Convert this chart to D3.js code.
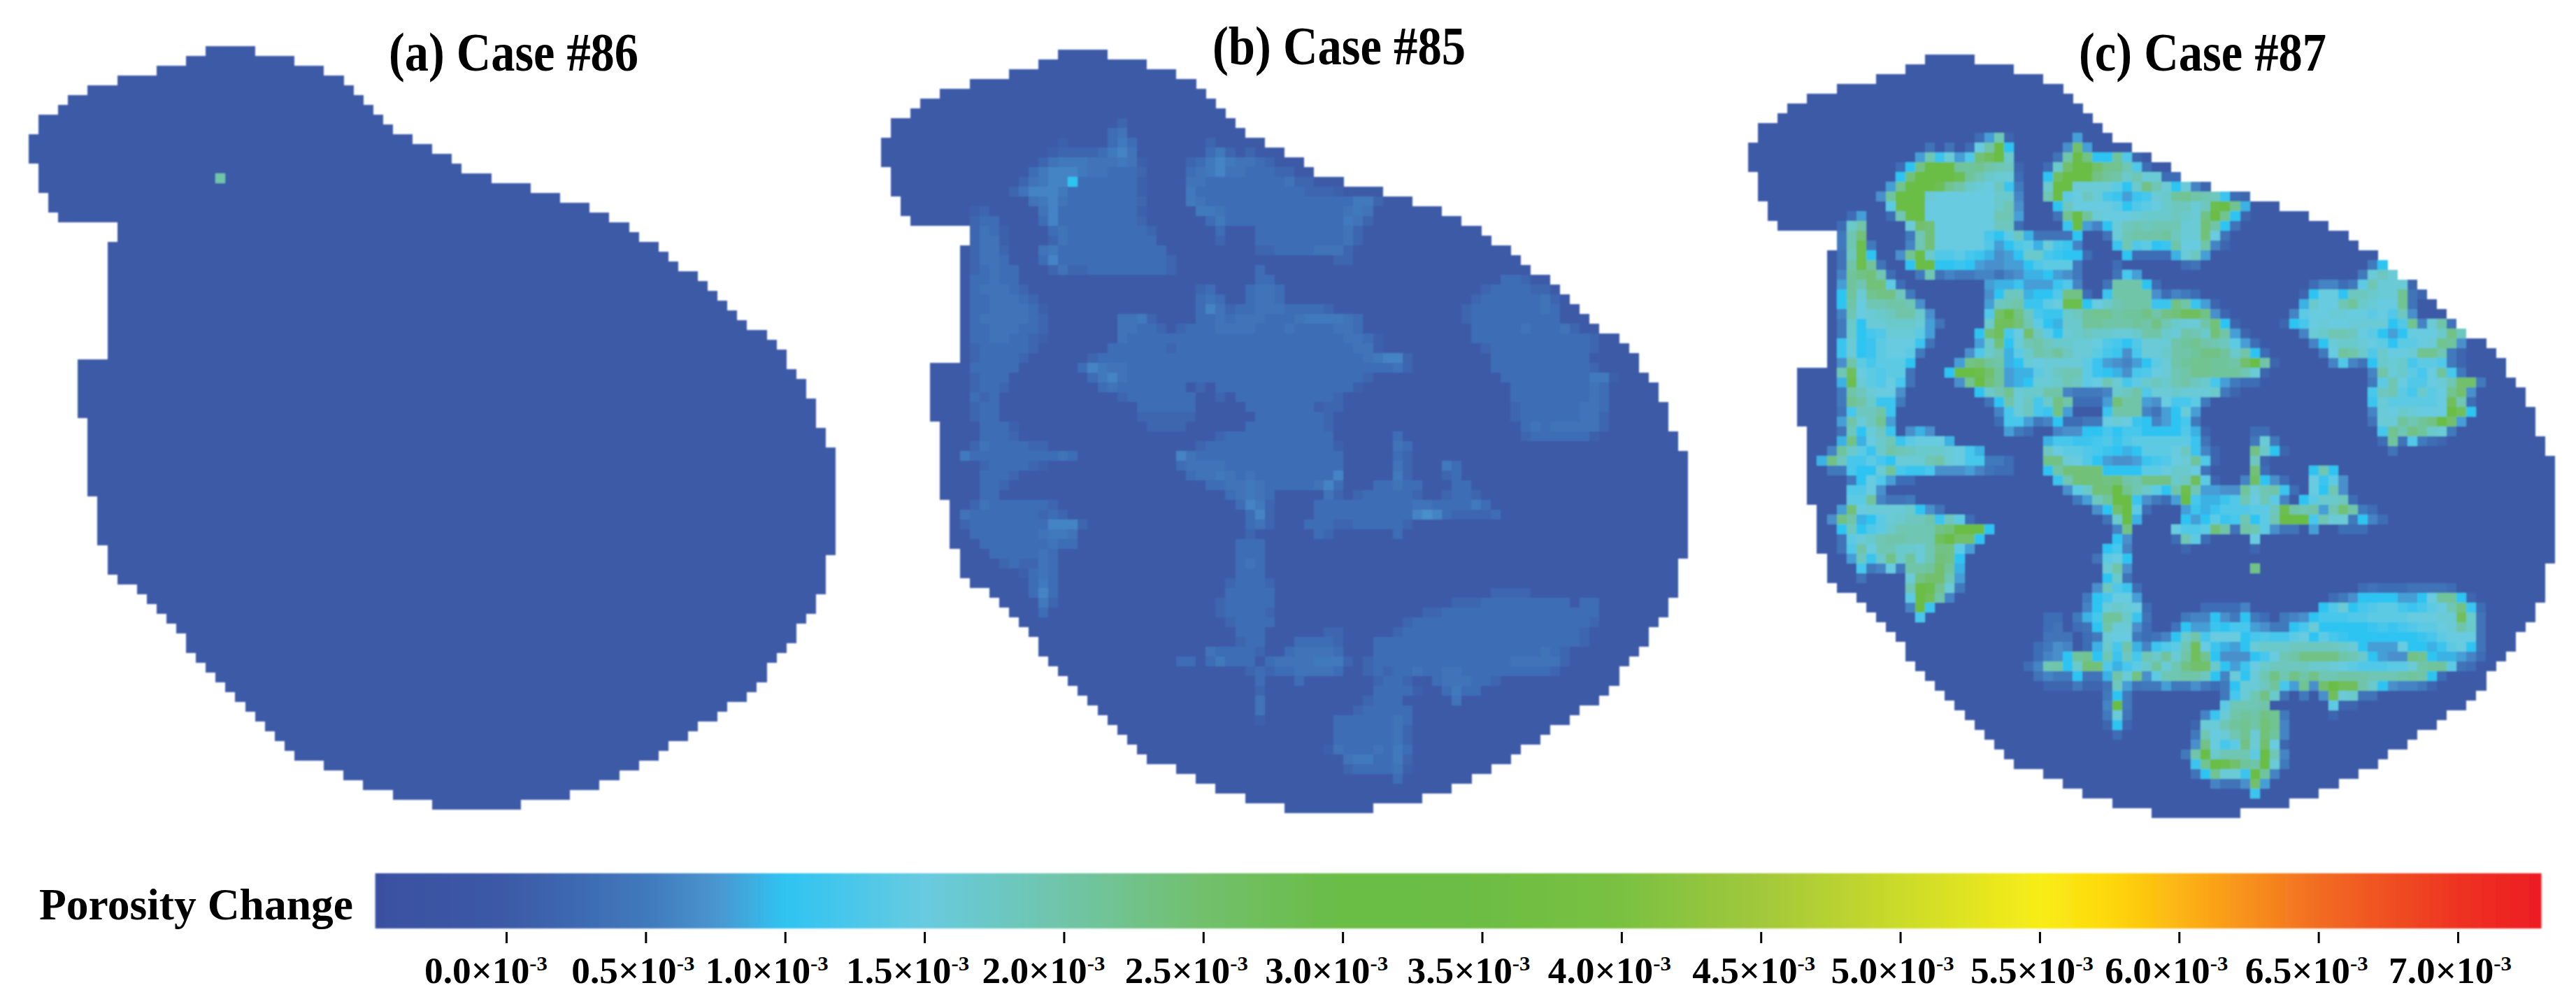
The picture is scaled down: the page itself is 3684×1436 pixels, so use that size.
<!DOCTYPE html>
<html><head><meta charset="utf-8">
<script src="https://cdnjs.cloudflare.com/ajax/libs/d3/7.8.5/d3.min.js"></script>
<style>html,body{margin:0;padding:0;background:#fff}svg{display:block}text{font-family:"Liberation Serif",serif;font-weight:bold;fill:#000}</style>
</head><body><svg id="c" width="3684" height="1436"></svg>
<script>
// ---- data ----
const titles = ["(a) Case #86", "(b) Case #85", "(c) Case #87"];
const colorbarLabel = "Porosity Change";
const tickValues = [0,0.5,1,1.5,2,2.5,3,3.5,4,4.5,5,5.5,6,6.5,7];
const tickText = ["0.0","0.5","1.0","1.5","2.0","2.5","3.0","3.5","4.0","4.5","5.0","5.5","6.0","6.5","7.0"];
const colorStopValues = [-0.47,0,0.5,0.75,1,1.5,2,2.5,3,3.5,4,4.5,5,5.5,5.75,6,6.5,7,7.3];
const colorStopColors = ["#3a50a1","#3c5aa7","#4079bc","#4a95cf","#2fc4f2","#68cbe0","#70c5a8","#72c06c","#6abd45","#6dbd44","#7ac143","#a2c83b","#cbdb2a","#f8ed18","#fed80a","#fdb515","#f26c23","#ee3324","#ed1c24"];
// grid extent of the domain, one [first, last+1] column per row
const maskLeft = [18,16,13,9,6,4,3,1,1,0,0,0,1,1,1,2,2,3,9,9,8,8,8,8,8,8,8,8,8,8,8,8,5,5,5,5,5,5,6,6,6,6,6,6,6,6,7,7,7,7,7,8,8,8,9,11,12,13,14,15,16,16,17,18,19,20,21,22,23,24,25,26,27,30,32,34,37,41];
const maskRight = [23,27,30,32,33,34,35,36,37,39,41,43,44,47,51,54,57,59,61,62,64,65,66,68,69,70,71,72,73,75,76,77,77,78,79,79,80,80,80,81,81,82,82,82,82,82,82,82,82,82,82,82,81,81,81,81,80,80,79,78,78,77,76,75,75,74,73,71,70,68,67,65,64,62,60,58,55,50];
// porosity change, one entry per grid row: "startCol:values", base-36 digit = tenths of 1e-3
const caseA = {13:"19:k"};
const caseB = {7:"24:2",8:"23:34",9:"18:1 23:353 33:2",10:"17:122223564 33:352 37:2",11:"16:24555444541 31:235654432",12:"15:356665443332 31:34564433322",
13:"14:24566a3333331 31:4433333333422",14:"13:24666533333331 31:5333333333332221",15:"15:456433333332 31:54333333333333333552",
16:"9:12 16:46333333331 32:554333333333333454",17:"9:233 16:36333333332 33:35333333333333542",18:"9:2431 17:34333333332 34:3 38:33333333342",
19:"9:2441 17:24333333333 34:2 38:33333333342",20:"9:2442 16:4533333333333 38:2233334442",21:"9:2443 16:36333333333332 46:22",22:"9:23433 17:2422333333332 38:3",
23:"9:33433 38:33 63:332",24:"9:344432 32:23 37:3443 61:2333322",25:"9:3344432 32:343 37:3443 60:233333342",26:"9:33444431 32:3642 36:3344433332 59:2333333343",
27:"9:34444432 24:4452 32:33434443334555543 59:2333333333",28:"9:33444332 24:44332 30:2333444433343333443 60:33333433342",
29:"9:33443321 24:433333333333333333333334431 60:3333333333332",30:"9:2333332 23:3333332333333333333333333441 61:233333333332",
31:"9:233332 21:233333333333333333333333333345662 62:3333333333",32:"9:33333 20:3654433333333333333333333333333342 62:33333333332",
33:"9:2333 21:35643333333333333333333333332 63:333333333551",34:"9:2332 22:343333333 32:2 34:333333333333331 64:3333333343",
35:"9:323 24:23333333 34:2 36:33333333332 64:3333333343",36:"9:233 26:333333 37:3333333122 64:2333333443",37:"9:233 26:222222 38:33333332 64:2333333442",
38:"10:3331 27:2222 37:333333332 65:343444442",39:"10:3332 34:233333333333 52:3 65:23333331",40:"9:24333322 32:233333333333331 52:43",
41:"8:533333333343 30:64333333333333333 52:32",42:"10:2333321 30:34444333333333333 52:42 57:53",43:"10:3332 31:3445434333333336 52:52 57:23",
44:"10:332 33:33445433333463 50:33433 58:33",45:"10:33 35:34543 45:42 48:2333332 57:2332",46:"9:243333332 36:3652 44:333333333344333353",
47:"8:43333333232 37:362 44:3333333333676322223",48:"8:2333333336662 37:342 43:33322333332",49:"9:33333334554 37:2 44:32 52:3",50:"10:3333333433 36:333",
51:"11:3333343 36:333",52:"12:232243 36:343",53:"14:1343 36:333",54:"15:353 35:23332",55:"15:363 35:33333 62:2222",56:"16:52 34:233333 58:222333333333033",
57:"16:3 34:233332 55:223333333333333333",58:"35:23333 53:23333333333333333332",59:"36:333 45:22 52:23333333333333333332",60:"36:233 42:33332 50:3333333333333333333332",
61:"33:433332 41:344443 50:33333333333333333432",62:"30:33 33:35333 39:344445552 49:233333333333333444442",63:"37:23 39:23344443 49:23233433443333333332",
64:"38:3 42:3 50:2332 56:3444332",65:"38:2 50:33331 57:3533",66:"38:4 49:2333 58:4",67:"38:4 48:233333",68:"38:1 46:33333343",69:"46:33333342",70:"46:33333342",
71:"45:143334353",72:"47:4553352",73:"47:2333341",74:"52:3"};
const caseC = {8:"23:38j2 33:8",9:"18:4 20:4 22:3fkua 32:7p8",10:"17:8jbg8doruh 31:4kunaald2",11:"15:3anuuullmkji2 30:3hpuupmmjd3",12:"15:aouuuusljhgg3 30:aquuunlkhjgg33",
13:"14:8muuusmkhgfib5 30:huuggggeahnjgag62",14:"13:7luuugffffffhh6 30:juefigcb8bcghlmkjib32",15:"14:euuufffffffhj7 31:aiffffeadefhiigitum9",
16:"10:38 14:3juufffffffjj8 31:4mulgfffghhhihgnuma2",17:"9:3hk 16:gpoffffffii3 32:bu86agijijjjggoka4",18:"9:5jo 16:5jofffffcaei94444a 36:4gjkkkliggof4",
19:"9:5jt5 16:6jofffffd8ade9gcb6 37:bjdeabkffk62",20:"9:4ita 15:7muhddecb978ahhcbaa3 38:a33339gi8",21:"9:4ktl4 16:auuaaba87788adeee5 37:3 44:34 63:5a",
22:"9:6lnoj3 17:5j46556646799a875 37:4c8 62:5gig",23:"9:8ljooe3 24:899b888bd6 36:4kkka3 57:36635ejggg2",24:"9:algmnni5 24:7aii9aadnn3 36:bkkkk73653 56:2affaiihggm42",
25:"9:akfjjkkj7 24:8ijkbbefttafhjkkkbbnkb82 56:9hffjlhgffm4",26:"9:6jfghikkh7 24:dpunicbbhilmmkllnknorrn72 55:6effggffefdi7",
27:"9:5hagghhhg84 24:hrrojea9hhllkkklknjhggkoa2 54:2acfgffggggadm6gk4",28:"9:5hacdggge8 23:aorcfpieaghihhgghkkhgkjhok82 56:6ghjjifea8afffhni",
29:"9:bgabefffb4 23:8hoagjkihhggfdcadgggklmkjie83 57:6aghhgfeaeefgml7",30:"9:bgabeffe5 22:7dhj9ehkjliggecb7cgghkklnnlhka3 58:5flkhdhffgmmj52",
31:"9:7keceeea 21:8nolk9agfggggeb8768aegklmmllkpuk2 59:6d64ahghceed52",32:"9:jrfedee4 20:auutpl899egijjeba97cdfgjkmmllljg2 63:6kghecflc5",
33:"9:9tgedfc4 21:7muol89agghjiefjgcehihjkihc8533 63:5ejfddfgjpp5",34:"9:5kigff7 23:ahjmghhkk65556hikdgghgggh52 63:cijechefmp7",
35:"9:5mkhbb5 24:4akgichnk3338okk87fcce5 63:bgeeeeefrj3",36:"9:4ciikb 25:6cgicbn8 36:bkkk648ag8 63:6gfhgfffura",37:"9:8kgim8 25:3cc856a3355fgfba68ac5 63:4ggljlnup8",
38:"9:4iagib 16:797 26:853 31:677aacaccaaaad92 51:33 64:cmjnlhg5",39:"9:9n9fhjbefff9 30:9ccbbcdbdeeeeeeb4 51:5g5 64:3l4d532",40:"8:6lhebhkjihhhgfc9 30:ifeedcba9aeeefib62 51:nha2 65:4",
41:"7:9niccecagggjkgfcc553 30:nngfda8778bcdfgld2 51:i2",42:"8:55caaglcbbc77786433 30:akooooaaaaeefhhf4 51:o3 57:aja",43:"10:5afd833 31:bjooonokjnnnhire2 50:6qa73 57:fbe7",
44:"10:ddf7 32:7ehooumjheaktj8877lgjkb3 57:faj7",45:"10:eel6445 33:58iluub7538uc99bdjfje6 56:aehhi3",46:"9:8ofggggha74 35:7apue3 44:8b9bdddeeitkjk8jok53",
47:"8:7nk9aeghiikbie3 36:4hu9 44:a8aebcjaejuuucjgg5a63",48:"9:aiadehjjjjnouuua 37:6n 43:fddeok4kje744 57:8 60:333",49:"9:4eghjkkjjjruppa 37:a7 43:3je3 51:f",
50:"9:4dkfjjhhgjnne8 36:ac6 44:2 51:2",51:"10:8ibhnhlgjona 35:4efa",52:"11:c56f5kklpl9 36:gk7 51:n",53:"11:4 16:gnppj8 36:ah4",54:"16:jutmg5 35:7idb3 62:3433344443",
55:"16:eurk6 34:5acff8 59:357aaaa88aflla2",56:"16:6ub 34:6aghgf3 46:33336 58:adgacdeecbcefjnb3",57:"17:c 30:33 33:59cllhb4 44:566a75a53 54:567acccddeeeefffggrh4",
58:"30:34 33:34akgg73 43:4a88bacc8755acgaaaaabcbcdeefgkh4",59:"30:444 34:35gff5346ahkcfffacdccefaecbaaaaaaabcefff4",60:"29:3576 34:39hck96bdejrfb98aghhhiiiiihga888faa9befa4",
61:"29:367almajbicjhlgkrma777acfjknnnnkjha877nma99863",62:"28:36jkahood9cehlgjnppha8bfhiiiihhgfedddeegkllе43".replace("е","e"),
63:"29:4655a449kgn7ejjkkia6gagjnjnknjjkkkjjjklka3",64:"30:2225224i84558557535aggilc8m7purrkha76652",65:"36:5a5 48:5cgjnh4 56:5 58:7rgh44",66:"36:6u5 48:ejjjk 59:e22",
67:"36:5g4 46:6bgklknm5 59:2",68:"36:2a2 45:2ggjlmkom6",69:"37:3 45:5jfgjmgol6",70:"45:7nfcengpf2",71:"44:5kuhjjjeuj6",72:"45:bmutplkug5",73:"45:4amggbul6",74:"47:6447p8",75:"51:b"};
const panelCases = [caseA, caseB, caseC];

// ---- layout ----
const panelX = [41, 1260, 2500], panelY = [66, 71, 78];
const nCols = 82, nRows = 78, cellW = 14.07, cellH = 14;
const titleX = [556, 1734, 2973], titleY = [101, 92, 101], titleW = [357, 362, 354];
const labelNudge = [-117,-106,-114,-112,-117,-112,-111,-107,-105,-98,-99,-99,-106,-105,-99];

const svg = d3.select("#c");
const defs = svg.append("defs");
defs.append("filter").attr("id","soft").attr("x",-0.02).attr("y",-0.02).attr("width",1.04).attr("height",1.04)
  .append("feGaussianBlur").attr("stdDeviation",1);

const color = d3.scaleLinear().domain(colorStopValues).range(colorStopColors).interpolate(d3.interpolateRgb).clamp(true);
const parseRow = s => {           // "start:digits start:digits" -> Map(col -> value)
  const m = new Map();
  (s||"").split(" ").forEach(tok => {
    if (!tok.includes(":")) return;
    const [st, ds] = tok.split(":");
    [...ds].forEach((ch,i) => m.set(+st+i, parseInt(ch,36)/10));
  });
  return m;
};
const cellsOf = table => d3.range(nRows).flatMap(r => {
  const vals = parseRow(table[r]);
  return d3.range(maskLeft[r], maskRight[r]).map(c => ({r, c, v: vals.get(c) || 0}));
});

panelCases.forEach((table, i) => {
  const x = d3.scaleBand().domain(d3.range(nCols)).range([panelX[i], panelX[i]+nCols*cellW]);
  const y = d3.scaleBand().domain(d3.range(nRows)).range([panelY[i], panelY[i]+nRows*cellH]);
  svg.append("g").attr("filter","url(#soft)").attr("shape-rendering","crispEdges")
    .selectAll("rect").data(cellsOf(table)).join("rect")
    .attr("x", d => x(d.c)).attr("y", d => y(d.r))
    .attr("width", x.bandwidth()+0.3).attr("height", y.bandwidth()+0.3)
    .attr("fill", d => color(d.v));
  svg.append("text").attr("x",titleX[i]).attr("y",titleY[i]).attr("font-size",78)
    .attr("textLength",titleW[i]).attr("lengthAdjust","spacingAndGlyphs").text(titles[i]);
});

// colour bar
const bx = d3.scaleLinear().domain([0,7]).range([724,3515]);
const barV = [colorStopValues[0], colorStopValues[colorStopValues.length-1]];
const grad = defs.append("linearGradient").attr("id","bar");
colorStopValues.forEach((v,i) => grad.append("stop")
  .attr("offset",(v-barV[0])/(barV[1]-barV[0])).attr("stop-color",colorStopColors[i]));
svg.append("rect").attr("x",bx(barV[0])).attr("y",1249).attr("width",bx(barV[1])-bx(barV[0])).attr("height",79)
  .attr("fill","url(#bar)").attr("filter","url(#soft)");
svg.append("text").attr("x",56).attr("y",1315).attr("font-size",63)
  .attr("textLength",449).attr("lengthAdjust","spacingAndGlyphs").text(colorbarLabel);

const axis = svg.append("g").attr("transform","translate(0,1333)")
  .call(d3.axisBottom(bx).tickValues(tickValues).tickSize(16).tickFormat(""));
axis.select(".domain").remove();
axis.selectAll("line").attr("stroke","#000").attr("stroke-width",3);

const labels = svg.append("g").selectAll("text").data(tickValues).join("text")
  .attr("x",(d,i)=>bx(d)+labelNudge[i]).attr("y",1406).attr("font-size",52)
  .attr("textLength",176).attr("lengthAdjust","spacingAndGlyphs");
labels.append("tspan").text((d,i)=>tickText[i]+"×10");
labels.append("tspan").attr("dy",-18).attr("font-size",30).text("-3");
</script></body></html>
